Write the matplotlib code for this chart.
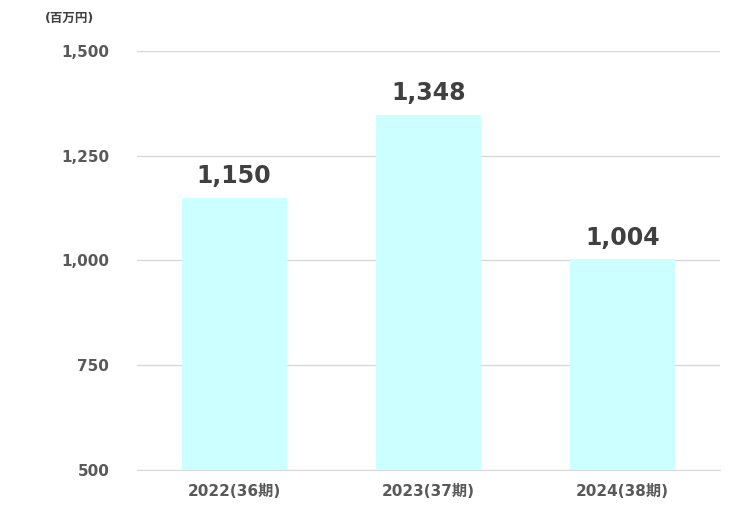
import matplotlib.pyplot as plt
from matplotlib.ticker import FuncFormatter

plt.rcParams['font.family'] = ['DejaVu Sans', 'Noto Sans CJK JP']

categories = ['2022(36期)', '2023(37期)', '2024(38期)']
values = [1150, 1348, 1004]
yticks = [500, 750, 1000, 1250, 1500]

fig = plt.figure(figsize=(7.45, 5.25), dpi=100)
ax = fig.add_axes([0.184, 0.105, 0.782, 0.798])

x = range(len(categories))
ax.bar(x, values, width=0.54, color='#CCFFFF', zorder=2)
for i, v in zip(x, values):
    ax.text(i, v + 22, f'{v:,}', ha='center', va='bottom', fontsize=17,
            fontweight='bold', color='#404040')

ax.set_xlim(-0.5, 2.5)
ax.set_ylim(500, 1500)
ax.set_yticks(yticks)
ax.yaxis.set_major_formatter(FuncFormatter(lambda v, p: f'{int(v):,}'))
ax.set_xticks(list(x))
ax.set_xticklabels(categories)
ax.grid(axis='y', color='#D9D9D9', linewidth=1, zorder=0)
for s in ['top', 'right', 'left']:
    ax.spines[s].set_visible(False)
ax.spines['bottom'].set_color('#D9D9D9')
ax.tick_params(length=0, labelsize=11, labelcolor='#595959', pad=10)
for lab in ax.get_xticklabels() + ax.get_yticklabels():
    lab.set_fontweight('bold')
ax.tick_params(axis='y', pad=20)

fig.text(0.06, 0.965, '(百万円)', fontsize=9, fontweight='bold',
         color='#404040', va='center')

fig.savefig('out.png')
